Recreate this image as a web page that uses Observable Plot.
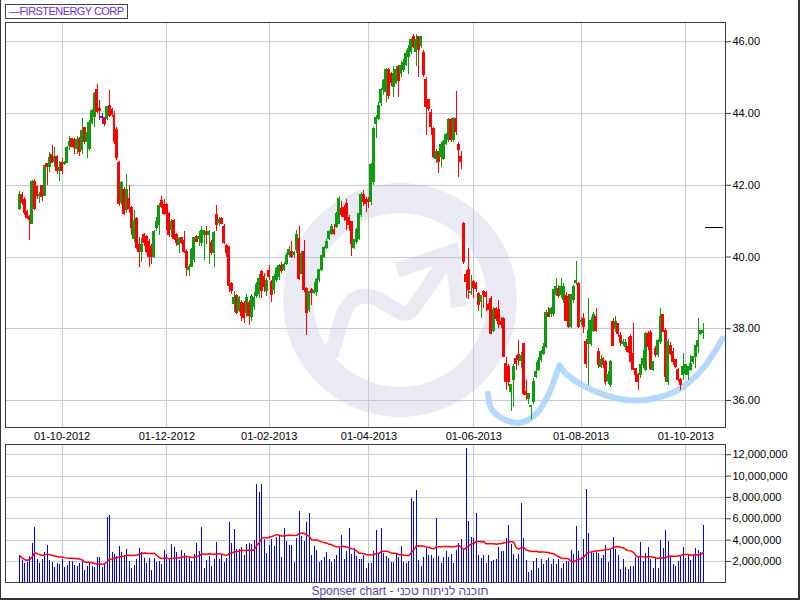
<!DOCTYPE html>
<html><head><meta charset="utf-8">
<script src="https://cdn.jsdelivr.net/npm/d3@7"></script>
<script src="https://cdn.jsdelivr.net/npm/@observablehq/plot@0.6"></script>
<style>
html,body{margin:0;padding:0;background:#fff;}
#wrap{position:relative;width:800px;height:600px;overflow:hidden;font-family:"Liberation Sans",Arial,sans-serif;background:#fff;}
#wm,#main,#vol{position:absolute;left:0;}
#wm{top:0;}
#main{top:0;}
#vol{top:440px;}
#legend{position:absolute;left:5px;top:4px;height:13px;padding:0 3px 0 3px;border:1px solid #444;color:#7030d0;font-size:11px;letter-spacing:-0.55px;line-height:13px;background:#fff;white-space:nowrap;}
#sponsor{position:absolute;left:0;width:800px;top:584px;text-align:center;font-size:12px;line-height:14px;color:#5546a8;}
#border{position:absolute;left:0;top:0;width:797px;height:598px;border-left:1px solid #333;border-right:2px solid #333;border-bottom:2px solid #333;pointer-events:none;}
</style></head>
<body><div id="wrap">
<svg id="wm" width="800" height="600">
 <g fill="none" stroke="#eaeaf4">
  <circle cx="400" cy="300" r="102" stroke-width="30"/>
  <path d="M 331 356 L 344 312 Q 356 288 380 300 L 398 311 Q 408 317 414 307 L 447 259" stroke-width="15"/>
  <path d="M 397 270 L 452 252 L 459 307" stroke-width="15"/>
 </g>
</svg>
<div id="main"></div>
<div id="vol"></div>
<div id="legend">—FIRSTENERGY CORP</div>
<div id="sponsor">Sponser chart - תוכנה לניתוח טכני</div>
<div id="border"></div>
</div>
<script>
// ---- daily candles (trading-day index 0..274) ----
const openPx = [
41.35,41.74,41.60,41.26,41.12,40.93,42.10,41.95,41.70,41.98,
41.70,42.60,42.50,42.85,42.65,42.80,42.40,42.63,42.58,42.62,
43.10,43.28,43.25,43.02,43.30,42.98,43.60,43.20,43.00,43.75,
43.90,44.65,44.13,43.90,43.84,43.86,44.22,44.10,43.93,43.55,
42.63,41.50,41.86,41.30,41.63,41.37,40.50,41.05,40.33,40.14,
40.60,40.55,40.42,40.28,40.00,40.80,40.90,41.55,41.45,41.45,
41.20,40.75,41.00,40.60,40.33,40.52,40.45,40.14,39.63,39.73,
39.91,40.55,40.50,40.40,40.60,40.70,40.60,40.39,40.12,41.16,
40.94,41.07,40.85,40.32,40.27,39.26,38.70,38.92,38.50,38.73,
38.70,38.45,38.72,38.33,38.60,38.92,38.97,39.57,39.45,39.06,
39.60,39.30,39.07,39.35,39.45,39.76,39.65,39.81,40.05,40.14,
40.05,40.19,40.51,39.53,40.14,39.12,38.51,39.07,39.00,39.02,
39.35,39.65,40.00,40.26,40.51,40.65,40.76,40.84,40.93,41.35,
41.38,41.49,41.10,40.98,40.26,40.42,40.50,41.16,41.72,41.60,
41.60,41.53,42.10,43.70,43.86,44.30,44.65,44.60,45.20,45.10,
44.74,44.84,45.30,45.10,45.21,45.35,45.58,45.72,46.14,45.72,
46.14,45.88,45.70,44.93,44.37,44.02,43.58,42.74,42.93,42.79,
42.74,43.16,43.26,43.81,43.27,43.86,43.12,42.79,40.91,39.49,
39.63,39.00,39.30,39.26,38.98,38.74,39.02,39.00,38.65,38.84,
37.95,38.56,38.51,38.20,38.28,37.02,36.93,36.23,36.56,37.16,
37.26,37.10,37.58,36.23,36.05,35.81,35.95,36.65,36.85,37.12,
37.30,37.49,38.44,38.42,38.42,38.93,39.12,38.93,38.79,38.90,
38.88,38.05,38.79,39.28,39.26,38.19,38.28,37.63,37.58,37.58,
37.95,38.33,37.35,36.93,37.16,37.07,36.55,36.42,38.19,38.00,
38.14,37.80,37.58,37.50,37.49,37.77,37.30,36.88,36.70,36.70,
36.98,36.84,37.86,37.88,36.84,37.44,37.26,37.63,38.37,37.95,
36.51,37.53,37.35,37.12,36.84,36.56,36.70,36.74,36.70,36.84,
37.07,37.21,37.49,37.86,37.88];
const highPx = [
41.82,41.80,41.65,41.30,41.15,42.12,42.15,42.00,41.80,42.00,
42.55,42.60,42.90,43.10,43.05,42.82,42.65,42.75,42.66,43.08,
43.35,43.30,43.30,43.35,43.32,43.87,43.62,43.75,43.80,44.10,
44.60,44.82,44.35,44.00,43.90,44.20,44.65,44.15,44.05,43.60,
42.65,42.10,41.95,42.30,41.98,41.40,41.30,41.10,40.55,40.52,
40.65,40.60,40.50,40.35,40.75,41.10,41.50,41.70,41.60,41.50,
41.25,41.05,41.05,40.65,40.55,40.55,40.70,40.20,39.80,40.25,
40.55,40.60,40.70,40.85,40.75,40.85,40.75,40.45,40.70,41.45,
41.10,41.10,40.90,40.35,40.30,39.30,39.05,38.95,38.90,38.80,
38.75,38.95,38.80,38.95,39.00,39.30,39.50,39.62,39.55,39.40,
39.75,39.35,39.50,39.70,39.80,39.85,39.85,40.10,40.30,40.42,
40.15,40.74,40.84,40.15,40.47,39.15,39.05,39.12,39.30,39.40,
39.65,40.05,40.30,40.50,40.75,40.90,40.90,41.25,41.70,41.55,
41.45,41.60,41.15,41.00,40.50,40.80,41.25,41.80,41.85,41.67,
41.65,42.60,43.60,43.95,44.30,44.70,44.95,45.25,45.25,45.15,
45.30,45.30,45.35,45.45,45.50,45.75,45.90,46.10,46.20,46.19,
46.15,46.15,45.75,45.00,44.40,44.10,43.60,43.00,42.95,43.20,
43.25,43.45,43.85,43.85,43.90,44.62,43.20,42.95,40.95,39.63,
40.25,39.49,39.35,39.30,39.00,38.90,39.07,39.05,38.70,38.90,
38.60,38.60,38.79,38.30,38.30,37.21,37.00,36.45,37.00,37.26,
37.67,37.35,37.60,36.56,36.20,35.86,36.60,37.07,37.20,37.40,
37.60,38.50,38.60,38.60,39.10,39.40,39.20,39.40,39.25,39.00,
38.95,38.95,39.20,39.88,39.30,38.30,38.42,37.70,38.85,38.30,
38.45,38.56,37.45,37.26,37.20,37.12,36.80,37.12,38.28,38.33,
38.14,37.90,37.70,37.70,37.77,37.85,38.14,36.90,36.75,36.95,
37.40,37.90,37.91,37.95,37.10,37.50,37.70,38.56,38.40,38.00,
37.70,37.63,37.44,37.15,36.90,36.60,37.30,37.00,36.95,37.26,
37.20,37.53,38.28,37.95,38.15];
const lowPx = [
41.30,41.45,41.15,41.05,40.45,40.90,41.30,41.60,41.50,41.55,
41.68,42.00,42.35,42.60,42.50,42.30,42.10,42.30,42.55,42.60,
42.98,43.05,42.85,42.85,42.80,42.85,43.15,42.75,42.95,43.70,
43.60,44.00,43.80,43.70,43.65,43.80,43.88,43.90,43.15,42.70,
41.40,41.45,41.15,41.20,41.20,40.60,40.40,40.22,39.70,39.85,
40.30,40.10,39.70,39.80,39.95,40.70,40.60,41.35,41.15,40.75,
40.55,40.55,40.45,40.30,40.10,40.35,40.10,39.45,39.45,39.70,
39.85,40.40,40.30,40.30,39.90,40.35,39.80,40.05,39.70,40.70,
40.85,40.90,40.35,40.00,39.00,38.95,38.45,38.40,38.45,38.20,
38.15,38.30,38.10,38.20,38.50,38.85,38.85,38.85,39.00,38.90,
39.35,38.72,38.95,39.30,39.35,39.55,39.60,39.75,40.00,39.95,
39.95,40.10,39.35,39.50,39.00,37.80,38.45,38.65,38.95,38.90,
39.30,39.60,39.95,40.20,40.45,40.60,40.60,40.80,40.90,41.10,
41.00,40.74,40.70,40.02,40.20,40.35,40.45,41.10,41.40,41.25,
41.35,41.45,42.00,43.30,43.80,44.20,44.50,44.30,44.40,44.75,
44.46,44.80,44.46,45.00,45.15,45.30,45.10,45.65,45.80,45.30,
45.00,45.80,45.00,43.40,44.05,43.40,42.75,42.60,42.33,42.50,
42.70,43.10,43.20,43.20,43.20,43.40,42.23,42.44,39.80,38.84,
38.81,38.93,38.84,39.00,38.47,38.28,38.56,38.47,38.50,37.86,
37.90,38.20,38.00,38.00,37.21,36.28,36.40,35.70,35.80,36.84,
36.98,36.90,36.15,36.00,35.90,35.46,35.90,36.60,36.80,37.05,
37.25,37.45,38.30,38.30,38.35,38.90,38.85,38.85,38.70,38.20,
38.00,38.00,38.70,39.20,38.00,38.10,37.86,36.90,36.42,37.50,
37.90,37.90,36.90,36.88,36.88,36.42,36.45,36.35,37.50,37.90,
37.77,37.50,37.50,37.40,37.30,37.07,36.86,36.51,36.28,36.60,
36.90,36.80,37.40,36.85,36.80,37.20,37.20,37.55,37.90,36.51,
36.42,37.26,36.98,36.90,36.51,36.28,36.56,36.70,36.56,36.80,
37.00,36.88,37.30,37.80,37.70];
const closePx = [
41.72,41.50,41.23,41.10,41.03,42.10,41.35,41.70,41.72,41.68,
42.53,42.50,42.75,42.62,42.78,42.40,42.47,42.40,42.63,43.05,
43.20,43.07,43.05,43.27,42.93,43.50,43.20,43.45,43.75,44.07,
44.55,44.05,44.08,43.90,43.70,44.17,43.92,43.95,43.20,42.77,
41.47,42.05,41.20,41.87,41.35,40.80,41.00,40.25,40.15,40.33,
40.38,40.15,40.00,40.00,40.70,40.98,41.42,41.40,41.20,41.20,
40.60,40.98,40.50,40.38,40.50,40.40,40.15,39.68,39.73,40.19,
40.52,40.43,40.56,40.72,40.72,40.62,40.70,40.10,40.68,40.88,
41.02,40.93,40.38,40.10,39.20,39.05,38.87,38.45,38.87,38.36,
38.30,38.87,38.36,38.88,38.85,39.22,39.38,39.06,39.17,39.34,
39.43,38.93,39.44,39.67,39.76,39.62,39.77,40.02,40.19,40.00,
40.11,40.60,39.40,40.09,39.07,38.44,39.02,39.00,39.05,39.35,
39.63,40.02,40.26,40.42,40.70,40.84,40.65,41.21,41.63,41.16,
41.12,41.02,40.90,40.37,40.47,40.76,41.20,41.72,41.53,41.49,
41.53,42.56,43.58,43.88,44.20,44.65,44.90,45.20,44.48,44.84,
45.10,45.20,44.90,45.32,45.40,45.67,45.81,46.05,45.86,46.05,
45.77,46.14,45.07,44.19,44.14,43.63,42.79,42.93,42.65,43.12,
43.20,43.40,43.81,43.26,43.86,43.49,42.98,42.65,39.86,39.30,
39.07,39.02,39.14,39.12,38.65,38.90,38.93,38.88,38.51,37.86,
38.51,38.28,38.14,38.10,37.21,36.51,36.51,36.42,36.93,37.02,
37.12,37.25,36.19,36.14,36.19,35.84,36.51,36.79,37.10,37.35,
37.49,38.44,38.33,38.56,39.07,39.16,38.90,39.16,39.16,38.23,
38.05,38.93,39.16,39.32,38.05,38.23,38.05,37.02,37.95,38.23,
38.37,37.95,36.98,37.12,36.98,36.51,36.70,37.07,37.53,38.19,
37.86,37.60,37.63,37.60,37.35,37.07,36.86,36.70,36.51,36.98,
37.16,37.86,37.49,36.88,37.07,37.26,37.67,38.33,37.91,36.65,
37.63,37.30,37.07,36.93,36.56,36.42,36.93,36.98,36.93,37.02,
37.21,37.53,37.67,37.95,37.93];

// ---- daily volume, millions of shares ----
const volA = [2.56,2.09,1.84,1.94,2.47,3.66,5.16,2.19,1.81,2.19,
2.84,3.5,2.09,1.9,1.44,1.81,1.72,2.19,1.44,1.62,
2.0,2.0,1.62,1.53,1.81,2.09,1.16,1.53,1.81,1.53,
1.44,2.37,2.37,1.44,1.72,6.12,6.31,2.84,2.66,2.47,
3.41,2.84,2.56,3.12,2.0,1.34,1.62,2.19,3.22,2.84,
2.28,1.81,2.28,1.16,2.28,1.9,2.0,1.72,3.03,2.66,
2.19,3.59,3.31,2.84,2.09,3.03,2.75,2.41,2.28,2.0,
2.66,3.69,2.94,5.19,1.34,2.09,2.47,1.53,2.19,3.78,
2.19,2.66,1.9,2.28,5.66,3.69,5.0,3.12];
const volB = [3.09,3.34,2.59,3.59,3.66,3.59,3.97,9.22,8.5,9.22,
4.06,2.78,3.53,4.06,3.44,4.22,4.34,2.41,5.09,3.9,
3.47,3.53,1.94,4.19,6.69,4.38,3.9,5.66,6.5,2.56,
3.41,3.03,1.94,2.09,2.41,2.81,2.19,1.94,2.19,2.56,
3.25,4.44,2.19,2.94,5.09,2.66,3.25,2.5,2.16,2.16,
2.59,1.38,1.78,1.78,2.94,4.91,2.66,5.06,2.78,2.47,
2.25,1.94,1.94,2.78,2.41];
const volC = [3.41,1.94,1.78,2.0,7.94,7.63,8.66,2.09,1.53,2.41,
3.25,2.56,2.56,2.31,6.06,2.47,1.84,2.41,2.94,2.41,
2.66,1.84,3.03,3.72,4.03,3.13,12.63,5.75,4.28,4.13,
6.53,2.59,2.25,2.56,1.84,2.56,2.03,2.09,2.19,3.34,
2.94,2.97,4.19,5.38,3.59,2.66,2.19,2.66,7.47,4.19,
2.09,1.0,1.16,2.0,2.31,1.31,2.19,1.72,2.09,2.31,
1.72,2.19,1.72,2.16,1.38,1.84,2.0,2.0,3.03,2.66,
5.28,2.94,2.41,4.06,8.75,4.59,2.81,2.78,2.81,2.78,
2.25,2.56,3.5,1.88,3.03,4.22,3.13,2.56,1.25,2.19,
1.47,1.25,1.56,1.56,2.41,2.41,3.75,2.0,2.78,3.28,
2.16,1.31,2.25,1.31,3.97,3.25,4.91,3.88,2.34,1.72,
1.53,2.03,2.47,3.34,2.31,2.56,2.09,2.59,3.25,3.03,
2.81,5.38];

// ---- axes ----
const monthIdx = [17, 59, 100, 140, 182, 225, 267];
const monthLabels = ["01-10-2012","01-12-2012","01-02-2013","01-04-2013","01-06-2013","01-08-2013","01-10-2013"];
const priceTicks = [36, 38, 40, 42, 44, 46];
const volTicks = [2e6, 4e6, 6e6, 8e6, 10e6, 12e6];

// ---- hand-drawn "cup" annotation (index, price) ----
const cupSeg = [1,1,1,1,1,1,1,1, 2,2,2,2,2,2,2,2,2];
const cupI = [187.7,189.1,193.7,200.4,207.1,212.4,215.1,216.4, 216.4,219.1,225.7,235.1,245.7,256.4,265.7,273.7,281.7];
const cupP = [36.19,35.77,35.49,35.38,35.63,36.23,36.74,36.97, 36.97,36.74,36.42,36.14,36.00,36.09,36.37,36.88,37.72];

// ---- price marker at right ----
const markerLevel = 40.81, markerFrom = 274.9, markerTo = 282.1;

const N = openPx.length;
const candles = d3.range(N).map(i => ({
  i, o: openPx[i], c: closePx[i],
  h: Math.max(highPx[i], openPx[i], closePx[i]),
  l: Math.min(lowPx[i], openPx[i], closePx[i])
}));
const volAll = volA.concat(volB, volC);
const vols = volAll.map((v, i) => ({i, v: v * 1e6}));
const cup = cupI.map((x, k) => ({i: x, p: cupP[k], s: cupSeg[k]}));
const labelOf = new Map(monthIdx.map((d, k) => [d, monthLabels[k]]));

const UP = "#109a10", DOWN = "#ff0000", FLAT = "#5a22d6";
const col = d => d.c > d.o ? UP : d.c < d.o ? DOWN : FLAT;
const GRID = "#c8c8dc";
const FONT = '"Liberation Sans", Arial, Helvetica, sans-serif';
const XDOM = [-5.69, 282.9];

const main = Plot.plot({
  width: 800, height: 440,
  marginLeft: 5, marginRight: 75, marginTop: 22, marginBottom: 13,
  x: {domain: XDOM, axis: null, label: null},
  y: {domain: [35.247, 46.538], axis: null, label: null},
  color: {type: "identity"},
  style: {background: "transparent", fontFamily: FONT, fontSize: "11px", color: "#000", overflow: "visible"},
  marks: [
    Plot.gridY(priceTicks, {stroke: GRID, strokeOpacity: 1, shapeRendering: "crispEdges"}),
    Plot.gridX(monthIdx, {stroke: GRID, strokeOpacity: 1, shapeRendering: "crispEdges"}),
    Plot.line(cup, {x: "i", y: "p", z: "s", curve: "catmull-rom", stroke: "#a8d2fb", strokeWidth: 6, strokeOpacity: 0.85, strokeLinecap: "round"}),
    Plot.ruleX(candles, {x: "i", y1: "l", y2: "h", stroke: col, strokeWidth: 1, shapeRendering: "crispEdges"}),
    Plot.rect(candles, {x1: d => d.i - 0.6, x2: d => d.i + 0.6, y1: "o", y2: "c", fill: col, insetTop: -0.5, insetBottom: -0.5, shapeRendering: "crispEdges"}),
    Plot.ruleY(candles.filter(d => d.o === d.c), {y: "o", x1: d => d.i - 1.1, x2: d => d.i + 1.1, stroke: FLAT, shapeRendering: "crispEdges"}),
    Plot.ruleY([markerLevel], {y: d => d, x1: () => markerFrom, x2: () => markerTo, stroke: "#000", shapeRendering: "crispEdges"}),
    Plot.frame({stroke: "#3c3c3c", shapeRendering: "crispEdges"}),
    Plot.axisY(priceTicks, {anchor: "right", tickSize: 5, tickPadding: 2, tickFormat: d3.format(".2f"), label: null, stroke: "#3c3c3c"}),
    Plot.axisX(monthIdx, {anchor: "bottom", tickSize: 0, tickPadding: 5, tickFormat: d => labelOf.get(d), label: null})
  ]
});
document.getElementById("main").appendChild(main);

const vol = Plot.plot({
  width: 800, height: 160,
  marginLeft: 5, marginRight: 75, marginTop: 4, marginBottom: 17.7,
  x: {domain: XDOM, axis: null, label: null},
  y: {domain: [0, 12.96e6], axis: null, label: null},
  style: {background: "transparent", fontFamily: FONT, fontSize: "11px", color: "#000", overflow: "visible"},
  marks: [
    Plot.gridY(volTicks, {stroke: GRID, strokeOpacity: 1, shapeRendering: "crispEdges"}),
    Plot.gridX(monthIdx, {stroke: GRID, strokeOpacity: 1, shapeRendering: "crispEdges"}),
    Plot.ruleX(vols, {x: "i", y: "v", stroke: "#0000dd", strokeWidth: 1, shapeRendering: "crispEdges"}),
    Plot.lineY(vols, Plot.windowY({k: 20, anchor: "end", reduce: "mean"}, {x: "i", y: "v", stroke: "#ff0000", strokeWidth: 1.5})),
    Plot.frame({stroke: "#3c3c3c", shapeRendering: "crispEdges"}),
    Plot.axisY(volTicks, {anchor: "right", tickSize: 5, tickPadding: 2, tickFormat: d3.format(","), label: null, stroke: "#3c3c3c"})
  ]
});
document.getElementById("vol").appendChild(vol);
</script>
</body></html>
